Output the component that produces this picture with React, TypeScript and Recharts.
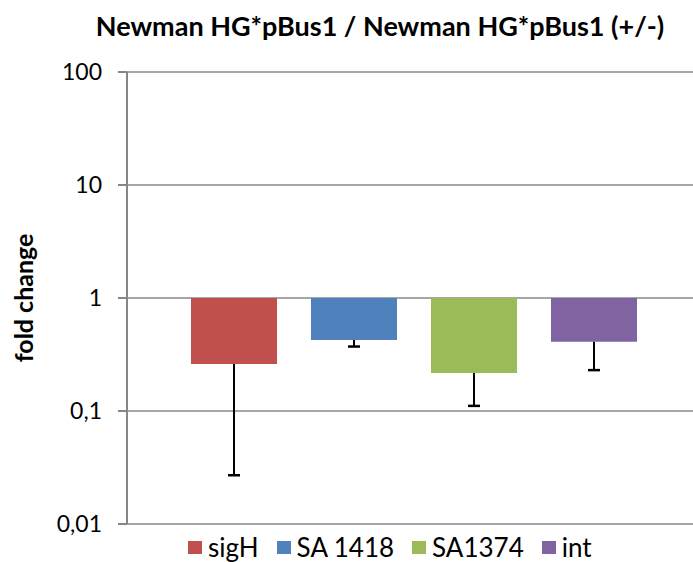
import { BarChart, Bar, XAxis, YAxis, CartesianGrid, Cell } from 'recharts';

const genes = ['sigH', 'SA 1418', 'SA1374', 'int'];
const foldChange = [0.26, 0.425, 0.217, 0.41];
const lowerBound = [0.027, 0.372, 0.111, 0.23];
const barColors = ['#C0504D', '#4F81BD', '#9BBB59', '#8064A2'];
const yTicks = [0.01, 0.1, 1, 10, 100];
const yTickLabels = ['0,01', '0,1', '1', '10', '100'];

const data = genes.map((name, i) => ({
  name,
  value: foldChange[i],
  low: lowerBound[i],
}));

const FONT = 'Lato, "Open Sans", sans-serif';

// only the minus whisker is drawn, like the original
function Whisker(props: any) {
  const { x, y, width, height } = props;
  const cx = x + width / 2;
  const top = Math.min(y, y + height);
  const bottom = Math.max(y, y + height);
  return (
    <g>
      <line x1={cx} y1={top} x2={cx} y2={bottom} stroke="#000" strokeWidth={2} />
      <line x1={cx - 6} y1={bottom} x2={cx + 6} y2={bottom} stroke="#000" strokeWidth={2.5} />
    </g>
  );
}

export default function App() {
  return (
    <div style={{ position: 'absolute', left: 0, top: 0, width: 693, height: 562, fontFamily: FONT }}>
      <div
        style={{
          position: 'absolute',
          left: 380,
          top: 10,
          lineHeight: '32px',
          transform: 'translateX(-50%)',
          whiteSpace: 'nowrap',
          fontSize: 27,
          fontWeight: 700,
          color: '#000',
        }}
      >
        Newman HG*pBus1 / Newman HG*pBus1 (+/-)
      </div>
      <BarChart
        width={693}
        height={562}
        data={data}
        margin={{ top: 72, right: 0, bottom: 38, left: 0 }}
      >
        <CartesianGrid vertical={false} stroke="#a6a6a6" strokeWidth={2} />
        <XAxis dataKey="name" hide padding={{ left: 47, right: 39 }} />
        <XAxis xAxisId="err" dataKey="name" hide padding={{ left: 47, right: 39 }} />
        <YAxis
          scale="log"
          domain={[0.01, 100]}
          ticks={yTicks}
          allowDataOverflow
          width={127}
          tickSize={9}
          tickMargin={16}
          stroke="#868686"
          strokeWidth={2}
          tick={{ fill: '#000', fontSize: 23, fontFamily: FONT }}
          tickFormatter={(v: number) => yTickLabels[yTicks.indexOf(v)] ?? String(v)}
          label={{
            value: 'fold change',
            angle: -90,
            position: 'insideLeft',
            offset: 24,
            style: { textAnchor: 'middle', fontSize: 25, fontWeight: 700, fill: '#000', fontFamily: FONT },
          }}
        />
        <Bar dataKey={(d: any) => [1, d.value]} barSize={86} isAnimationActive={false}>
          {data.map((d, i) => (
            <Cell key={d.name} fill={barColors[i]} />
          ))}
        </Bar>
        <Bar
          xAxisId="err"
          dataKey={(d: any) => [d.value, d.low]}
          barSize={86}
          shape={Whisker}
          isAnimationActive={false}
        />
      </BarChart>
      <div
        style={{
          position: 'absolute',
          left: 188,
          top: 532,
          lineHeight: '31px',
          display: 'flex',
          alignItems: 'center',
          gap: 18,
          fontSize: 26,
          color: '#000',
        }}
      >
        {genes.map((g, i) => (
          <div key={g} style={{ display: 'flex', alignItems: 'center', gap: 6 }}>
            <span style={{ display: 'inline-block', width: 14, height: 13, background: barColors[i] }} />
            <span>{g}</span>
          </div>
        ))}
      </div>
    </div>
  );
}
